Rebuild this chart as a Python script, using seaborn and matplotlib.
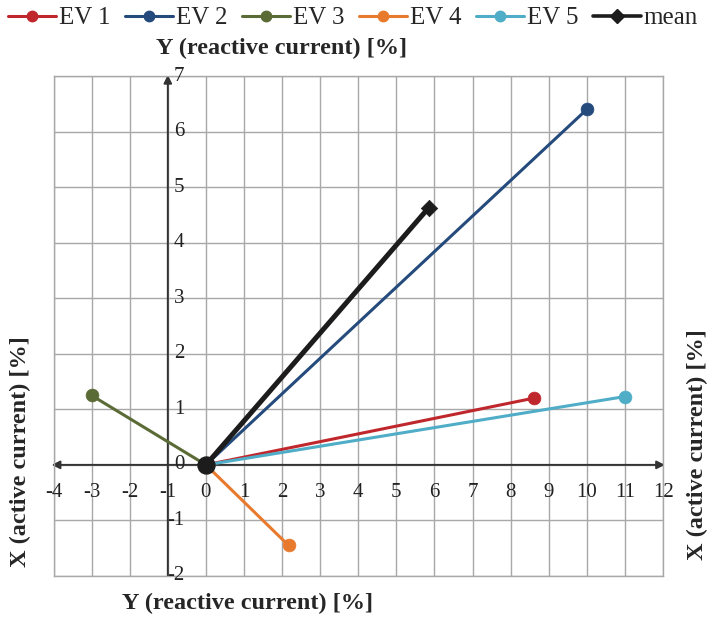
import matplotlib
matplotlib.use("Agg")
import matplotlib.pyplot as plt
from matplotlib.lines import Line2D
import pandas as pd
import seaborn as sns

# Vector end points: Y = reactive current [%], X = active current [%]
series = ["EV 1", "EV 2", "EV 3", "EV 4", "EV 5", "mean"]
reactive = [8.6, 10.0, -3.0, 2.17, 11.0, 5.85]
active = [1.2, 6.4, 1.25, -1.45, 1.23, 4.63]
colors = ["#c0272d", "#254b7c", "#5b6b35", "#e87a2e", "#4fadc7", "#1c1c1c"]
markers = ["o", "o", "o", "o", "o", "D"]

x_ticks = list(range(-4, 13))
y_ticks = list(range(-2, 8))

sns.set_theme(style="white")
plt.rcParams["font.family"] = ["Liberation Serif", "DejaVu Serif"]
plt.rcParams["mathtext.default"] = "regular"

# each vector is drawn from the origin to its end point
rows = []
for name, yr, xa in zip(series, reactive, active):
    rows.append({"series": name, "Y": 0.0, "X": 0.0})
    rows.append({"series": name, "Y": yr, "X": xa})
vectors = pd.DataFrame(rows)
ends = pd.DataFrame({"series": series, "Y": reactive, "X": active})

fig = plt.figure(figsize=(7.09, 6.18), dpi=100)
ax = fig.add_axes([0.0755, 0.068, 0.8597, 0.809])

ax.set_xlim(-4, 12)
ax.set_ylim(-2, 7)
ax.set_xticks(x_ticks)
ax.set_yticks(y_ticks)
ax.grid(True, color="#a8a8a8", lw=1.0)
ax.tick_params(length=0, labelbottom=False, labelleft=False)
for sp in ax.spines.values():
    sp.set_color("#a8a8a8")
    sp.set_linewidth(1.0)

# axis lines with arrow heads
arrow_kw = dict(color="#333333", lw=1.4, mutation_scale=12, shrinkA=0, shrinkB=0)
ax.annotate("", xy=(12.05, 0), xytext=(-4.05, 0), annotation_clip=False,
            arrowprops=dict(arrowstyle="<|-|>", **arrow_kw), zorder=2)
ax.annotate("", xy=(-1, 7.02), xytext=(-1, -2), annotation_clip=False,
            arrowprops=dict(arrowstyle="-|>", **arrow_kw), zorder=2)

for name, col in zip(series, colors):
    sub = vectors[vectors["series"] == name]
    lw = 3.6 if name == "mean" else 2.2
    sns.lineplot(data=sub, x="Y", y="X", color=col, lw=lw, sort=False,
                 estimator=None, ax=ax, zorder=4 if name == "mean" else 3)

for name, col, mk in zip(series, colors, markers):
    sub = ends[ends["series"] == name]
    sns.scatterplot(data=sub, x="Y", y="X", color=col, marker=mk,
                    s=70 if mk == "D" else 85, edgecolor=col, linewidth=0.5,
                    ax=ax, zorder=5, legend=False)

# common origin
sns.scatterplot(x=[0.0], y=[0.0], color=colors[-1], s=150, edgecolor=colors[-1],
                ax=ax, zorder=6, legend=False)
ax.set_xlabel("")
ax.set_ylabel("")

# tick labels next to the drawn axes
for xv in x_ticks:
    ax.text(xv, -0.5, str(xv), ha="center", va="center", fontsize=15,
            color="#222222")
for yv in y_ticks:
    ax.text(-0.56, yv, str(yv), ha="right", va="center", fontsize=15,
            color="#222222")

title_kw = dict(fontsize=17.5, fontweight="bold", color="#262626")
fig.text(281 / 709, 1 - 48 / 618, "Y (reactive current) [%]", ha="center",
         va="center", **title_kw)
fig.text(248 / 709, 1 - 603 / 618, "Y (reactive current) [%]", ha="center",
         va="center", **title_kw)
fig.text(20 / 709, 1 - 452 / 618, "X (active current) [%]", ha="center",
         va="center", rotation=90, **title_kw)
fig.text(697 / 709, 1 - 445 / 618, "X (active current) [%]", ha="center",
         va="center", rotation=90, **title_kw)

handles = [Line2D([0], [0], color=c, lw=2.6 if n == "mean" else 2.2, marker=m,
                  markersize=7 if m == "D" else 7.5)
           for n, c, m in zip(series, colors, markers)]
fig.legend(handles, series, loc="center", bbox_to_anchor=(0.498, 1 - 18 / 618),
           ncol=6, frameon=False, fontsize=18, handlelength=1.9,
           handletextpad=0.12, columnspacing=0.6, borderpad=0, borderaxespad=0)

fig.savefig("out.png", dpi=100)
